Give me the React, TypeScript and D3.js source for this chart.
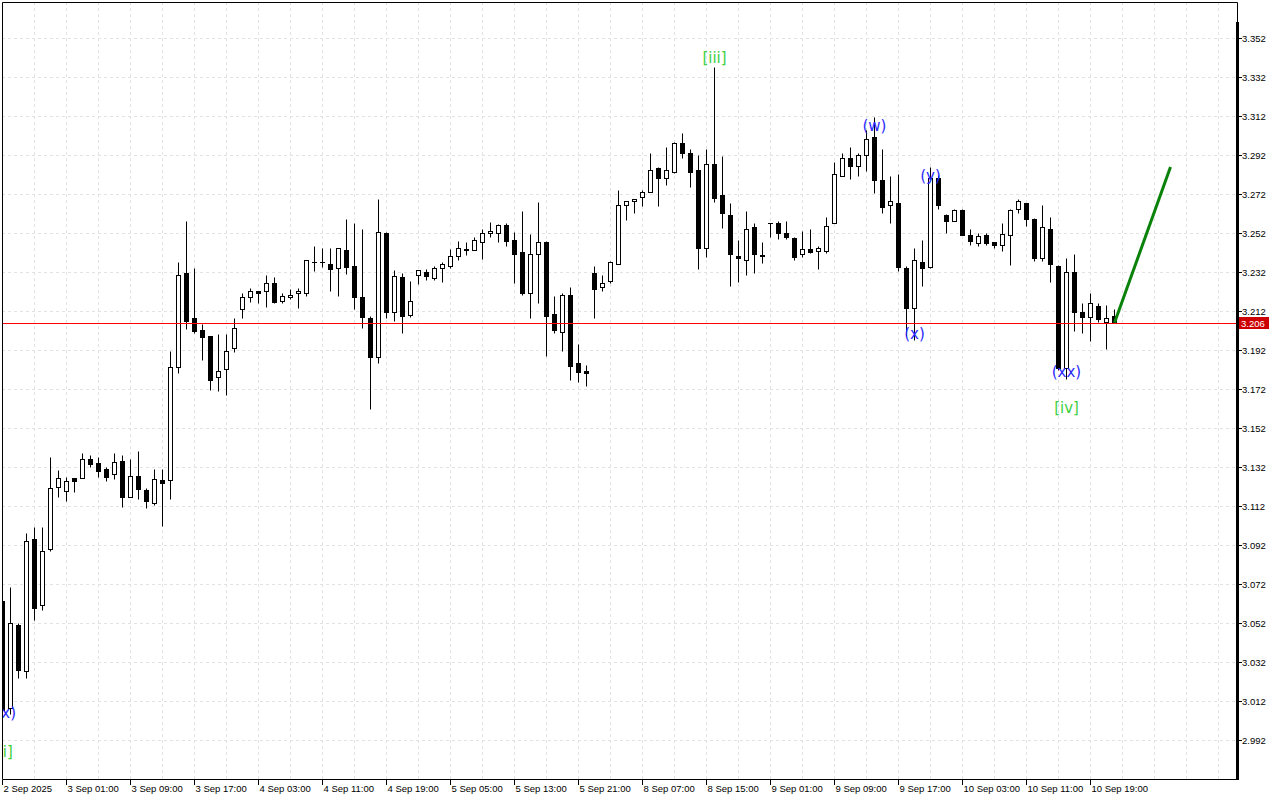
import React from 'react';
import * as d3 from 'd3';

// H1 bars (price)
const opens = [
  3.0633, 3.0084, 3.051, 3.0275, 3.095, 3.061, 3.09, 3.122, 3.1198, 3.1265,
  3.1265, 3.136, 3.134, 3.131, 3.1285, 3.135, 3.1165, 3.1275, 3.12, 3.1135,
  3.1255, 3.1253, 3.1832, 3.2315, 3.2084, 3.2023, 3.199, 3.178, 3.1822, 3.193,
  3.213, 3.2192, 3.2223, 3.2223, 3.2264, 3.2171, 3.2192, 3.2212, 3.2212, 3.2372,
  3.2372, 3.2361, 3.234, 3.2433, 3.235, 3.2192, 3.2084, 3.1884, 3.252, 3.2115,
  3.2295, 3.21, 3.2304, 3.232, 3.229, 3.234, 3.2351, 3.2402, 3.2432, 3.2433,
  3.2474, 3.252, 3.252, 3.256, 3.2483, 3.2423, 3.2211, 3.241, 3.2474, 3.2105,
  3.2012, 3.2202, 3.1853, 3.1812, 3.2313, 3.2243, 3.2274, 3.236, 3.2664, 3.2683,
  3.2704, 3.273, 3.2853, 3.2802, 3.2831, 3.298, 3.2929, 3.2842, 3.2443, 3.2872,
  3.2715, 3.2612, 3.2402, 3.238, 3.255, 3.2405, 3.257, 3.257, 3.252, 3.2493,
  3.241, 3.244, 3.2428, 3.243, 3.2571, 3.2812, 3.2903, 3.2862, 3.2918, 3.3012,
  3.279, 3.2663, 3.2672, 3.2339, 3.2137, 3.237, 3.2346, 3.2801, 3.2611, 3.258,
  3.264, 3.2511, 3.247, 3.2511, 3.2472, 3.246, 3.2511, 3.2642, 3.2672, 3.259,
  3.239, 3.2539, 3.235, 3.1828, 3.232, 3.2113, 3.209, 3.2147, 3.2063, 3.2093,
];
const highs = [
  3.066, 3.0706, 3.052, 3.098, 3.101, 3.101, 3.137, 3.1305, 3.127, 3.1266,
  3.139, 3.138, 3.137, 3.132, 3.139, 3.138, 3.136, 3.14, 3.121, 3.131,
  3.131, 3.1915, 3.237, 3.2582, 3.234, 3.2055, 3.199, 3.2002, 3.2, 3.2084,
  3.2212, 3.224, 3.2225, 3.2305, 3.2295, 3.2212, 3.2233, 3.2238, 3.2382, 3.2453,
  3.2443, 3.2443, 3.2443, 3.2592, 3.2571, 3.254, 3.2095, 3.2694, 3.2527, 3.233,
  3.2315, 3.2274, 3.233, 3.2334, 3.235, 3.237, 3.244, 3.2479, 3.2476, 3.25,
  3.254, 3.2578, 3.2565, 3.257, 3.2527, 3.2633, 3.2515, 3.268, 3.248, 3.2198,
  3.221, 3.2242, 3.195, 3.1843, 3.2351, 3.2305, 3.2375, 3.274, 3.2683, 3.2693,
  3.274, 3.293, 3.2858, 3.296, 3.2985, 3.3031, 3.295, 3.292, 3.295, 3.337,
  3.2915, 3.2672, 3.2484, 3.2633, 3.2573, 3.2474, 3.257, 3.258, 3.258, 3.25,
  3.253, 3.254, 3.2455, 3.2604, 3.2884, 3.2932, 3.2959, 3.293, 3.3048, 3.3116,
  3.295, 3.2812, 3.2822, 3.235, 3.2443, 3.2484, 3.286, 3.2817, 3.2615, 3.2643,
  3.2643, 3.2539, 3.252, 3.252, 3.2475, 3.257, 3.2645, 3.2693, 3.2675, 3.2595,
  3.2662, 3.26, 3.2355, 3.239, 3.2412, 3.216, 3.221, 3.216, 3.215, 3.213,
];
const lows = [
  3.004, 3.0053, 3.024, 3.024, 3.0535, 3.0587, 3.089, 3.1165, 3.1145, 3.119,
  3.1265, 3.132, 3.127, 3.125, 3.126, 3.1115, 3.1165, 3.1155, 3.111, 3.1125,
  3.102, 3.1156, 3.18, 3.203, 3.2007, 3.187, 3.1715, 3.171, 3.169, 3.191,
  3.2084, 3.2166, 3.2161, 3.214, 3.216, 3.2161, 3.2182, 3.2136, 3.2195, 3.2326,
  3.2348, 3.222, 3.2199, 3.231, 3.213, 3.2033, 3.162, 3.1855, 3.2084, 3.207,
  3.2008, 3.209, 3.2258, 3.2279, 3.2279, 3.227, 3.234, 3.2382, 3.2408, 3.2433,
  3.2388, 3.25, 3.2474, 3.2455, 3.2262, 3.2202, 3.2084, 3.216, 3.189, 3.2008,
  3.1916, 3.1766, 3.1756, 3.1737, 3.2084, 3.222, 3.2264, 3.236, 3.2587, 3.2621,
  3.266, 3.273, 3.266, 3.2768, 3.2828, 3.2903, 3.2757, 3.2337, 3.2398, 3.268,
  3.2547, 3.225, 3.227, 3.2305, 3.2314, 3.2368, 3.25, 3.249, 3.249, 3.2382,
  3.2398, 3.2415, 3.2337, 3.2416, 3.2571, 3.2812, 3.2798, 3.281, 3.284, 3.2727,
  3.2621, 3.257, 3.2327, 3.1992, 3.1971, 3.225, 3.234, 3.2642, 3.2519, 3.258,
  3.251, 3.246, 3.2455, 3.246, 3.2442, 3.243, 3.2356, 3.2621, 3.2558, 3.2378,
  3.2378, 3.227, 3.1817, 3.177, 3.2019, 3.2008, 3.1968, 3.2062, 3.1927, 3.206,
];
const closes = [
  3.0074, 3.052, 3.028, 3.094, 3.0597, 3.089, 3.121, 3.1265, 3.125, 3.125,
  3.136, 3.1335, 3.13, 3.127, 3.1345, 3.1165, 3.1275, 3.1206, 3.1145, 3.126,
  3.124, 3.1833, 3.2305, 3.207, 3.2017, 3.1987, 3.1766, 3.181, 3.1916, 3.2033,
  3.2192, 3.2223, 3.2212, 3.2264, 3.2166, 3.2197, 3.2202, 3.2223, 3.2382, 3.2372,
  3.2372, 3.2337, 3.2443, 3.2348, 3.2192, 3.209, 3.1884, 3.2527, 3.2115, 3.23,
  3.2095, 3.217, 3.233, 3.2301, 3.234, 3.236, 3.2402, 3.2443, 3.2436, 3.2484,
  3.252, 3.253, 3.256, 3.248, 3.241, 3.2211, 3.241, 3.2474, 3.2095, 3.202,
  3.2202, 3.184, 3.1809, 3.18, 3.2231, 3.2264, 3.2371, 3.2664, 3.2683, 3.2693,
  3.273, 3.2842, 3.2802, 3.2843, 3.298, 3.2929, 3.2831, 3.2442, 3.2872, 3.27,
  3.262, 3.241, 3.239, 3.254, 3.241, 3.2402, 3.257, 3.252, 3.2502, 3.2398,
  3.244, 3.242, 3.2442, 3.2557, 3.2823, 3.2903, 3.2862, 3.2918, 3.3, 3.279,
  3.2652, 3.2683, 3.2347, 3.2137, 3.2382, 3.234, 3.2801, 3.2663, 3.258, 3.264,
  3.251, 3.248, 3.2503, 3.247, 3.246, 3.2514, 3.264, 3.2683, 3.259, 3.239,
  3.255, 3.236, 3.1828, 3.232, 3.2116, 3.209, 3.216, 3.208, 3.2083, 3.206,
];

// one label every 8 bars
const timeLabels = [
  '2 Sep 2025', '3 Sep 01:00', '3 Sep 09:00', '3 Sep 17:00', '4 Sep 03:00',
  '4 Sep 11:00', '4 Sep 19:00', '5 Sep 05:00', '5 Sep 13:00', '5 Sep 21:00',
  '8 Sep 07:00', '8 Sep 15:00', '9 Sep 01:00', '9 Sep 09:00', '9 Sep 17:00',
  '10 Sep 03:00', '10 Sep 11:00', '10 Sep 19:00',
];

const priceTicks = [
  2.992, 3.012, 3.032, 3.052, 3.072, 3.092, 3.112, 3.132, 3.152, 3.172,
  3.192, 3.212, 3.232, 3.252, 3.272, 3.292, 3.312, 3.332, 3.352,
];

const lastPrice = 3.206;

// Elliott wave marks: bar index, price, text
const waveBars = [0.3, 0.4, 89, 109, 116, 114, 133, 133];
const wavePrices = [2.9858, 3.0058, 3.3417, 3.3069, 3.2812, 3.2, 3.1809, 3.1624];
const waveTexts = ['[i]', '(x)', '[iii]', '(w)', '(y)', '(x)', '(xx)', '[iv]'];

// projected wave
const projBars = [139, 146];
const projPrices = [3.206, 3.2858];

const W = 1280;
const H = 800;
const left = 2;
const top = 2;
const right = 1237;
const bottom = 779;

const App: React.FC = () => {
  const n = closes.length;
  const x = d3.scaleLinear().domain([0, n - 1]).range([2.5, 2.5 + 8 * (n - 1)]);
  const y = d3.scaleLinear().domain([2.992, 3.352]).range([740, 38]);
  const py = (p: number) => Math.round(y(p)) + 0.5;

  const gridX = d3.range(0, 160, 4).map(i => x(i)).filter(v => v < right);
  const axisFont = '"Liberation Sans", Arial, sans-serif';

  const line = d3.line<number>()
    .x((_, i) => x(projBars[i]))
    .y(d => y(d));

  return (
    <svg width={W} height={H} style={{ position: 'fixed', left: 0, top: 0, background: '#fff' }}>
      <defs>
        <clipPath id="plot">
          <rect x={left} y={top} width={right - left} height={bottom - top} />
        </clipPath>
      </defs>
      <rect x={0} y={0} width={W} height={H} fill="#fff" />

      {/* grid */}
      <g stroke="#e2e2e2" strokeDasharray="3,3" strokeWidth={1}>
        {gridX.map((gx, i) => (
          <line key={'gx' + i} x1={gx} x2={gx} y1={top} y2={bottom} />
        ))}
        {priceTicks.map((t, i) => (
          <line key={'gy' + i} x1={left} x2={right} y1={py(t)} y2={py(t)} />
        ))}
      </g>

      <g clipPath="url(#plot)">
        {/* candles */}
        {closes.map((c, i) => {
          const o = opens[i];
          const cx = x(i);
          const yo = py(o);
          const yc = py(c);
          const bull = c >= o;
          const yTop = Math.min(yo, yc);
          const hgt = Math.abs(yo - yc);
          return (
            <g key={i}>
              <line x1={cx} x2={cx} y1={py(highs[i])} y2={py(lows[i])} stroke="#000" strokeWidth={1} />
              {hgt < 1 ? (
                <line x1={cx - 2.5} x2={cx + 2.5} y1={yTop} y2={yTop} stroke="#000" strokeWidth={1} />
              ) : (
                <rect x={cx - 2} y={yTop} width={4} height={hgt}
                  fill={bull ? '#fff' : '#000'} stroke="#000" strokeWidth={1} />
              )}
            </g>
          );
        })}

        {/* last price line, over the candles */}
        <line x1={left} x2={right} y1={py(lastPrice)} y2={py(lastPrice)} stroke="#ff0000" strokeWidth={1.2} />

        {/* projection */}
        <path d={line(projPrices) || ''} fill="none" stroke="#0a820a" strokeWidth={3} />

        {/* wave labels */}
        {waveTexts.map((t, i) => (
          <text key={'w' + i} x={x(waveBars[i])} y={y(wavePrices[i])}
            textAnchor="middle" dominantBaseline="central"
            fontFamily='"DejaVu Sans", Verdana, sans-serif' fontSize={15}
            fill={t.startsWith('[') ? '#3fcf3f' : '#2a2aff'}>
            {t}
          </text>
        ))}
      </g>

      {/* frame */}
      <path d={`M${left + 0.5},${bottom + 0.5} V${top + 0.5} H${right + 0.5} V${bottom + 0.5} H${left + 0.5}`}
        fill="none" stroke="#000" strokeWidth={1} />
      <line x1={right + 0.5} x2={right + 0.5} y1={22} y2={bottom + 1} stroke="#000" strokeWidth={3} />

      {/* price axis */}
      {priceTicks.map((t, i) => (
        <g key={'pt' + i}>
          <line x1={right + 1} x2={right + 5} y1={py(t)} y2={py(t)} stroke="#000" />
          <text x={right + 5} y={py(t)} dominantBaseline="central" fontFamily={axisFont}
            fontSize={9.5} fill="#000">{d3.format('.3f')(t)}</text>
        </g>
      ))}
      <rect x={right + 2} y={py(lastPrice) - 6.5} width={30} height={12} fill="#cc0000" />
      <text x={right + 4} y={py(lastPrice)} dominantBaseline="central" fontFamily={axisFont}
        fontSize={9.5} fill="#fff">{d3.format('.3f')(lastPrice)}</text>

      {/* time axis */}
      {timeLabels.map((t, i) => {
        const tx = x(i * 8);
        return (
          <g key={'tl' + i}>
            <line x1={tx} x2={tx} y1={bottom + 1} y2={bottom + 6} stroke="#000" />
            <text x={tx + 1} y={bottom + 13} fontFamily={axisFont} fontSize={9.5} fill="#000">{t}</text>
          </g>
        );
      })}
    </svg>
  );
};

export default App;
